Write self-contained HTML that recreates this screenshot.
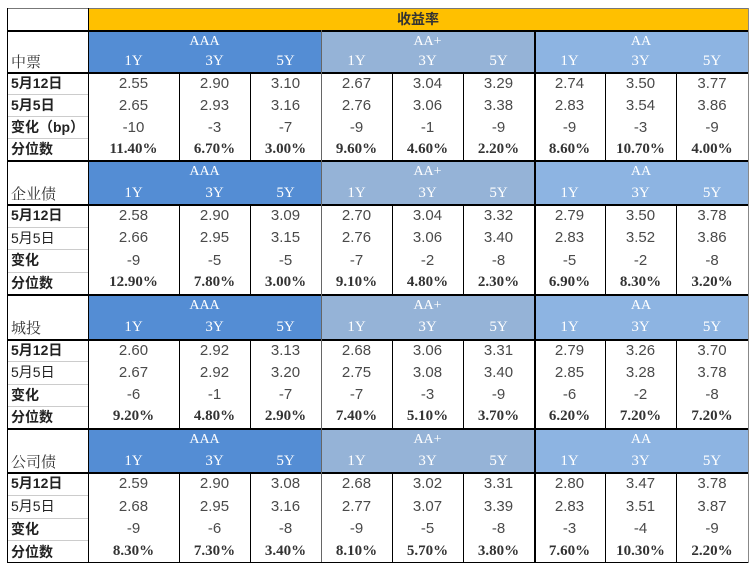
<!DOCTYPE html>
<html><head><meta charset="utf-8"><style>
body{margin:0;width:754px;height:572px;background:#fff;position:relative;overflow:hidden;font-family:"Liberation Sans","Noto Sans CJK SC",sans-serif}
.c{position:absolute;box-sizing:border-box;display:flex;align-items:center;justify-content:center;white-space:nowrap}
.n{font-size:15px;color:#4a4a4a}
.p{font-family:"Liberation Serif","Noto Serif CJK SC",serif;font-weight:bold;font-size:15px;color:#333}
.h{font-family:"Liberation Serif","Noto Serif CJK SC",serif;color:#fff;font-size:14px}
.l{justify-content:flex-start;padding-left:4px;font-size:14px;color:#222}
.line{position:absolute;background:#000}
</style></head><body>
<div id="t"></div>
<script>
const blockNames=["中票","企业债","城投","公司债"];
const ratings=["AAA","AA+","AA"];
const tenors=["1Y","3Y","5Y"];
const rowLabels=[["5月12日","5月5日","变化（bp）","分位数"],["5月12日","5月5日","变化","分位数"],["5月12日","5月5日","变化","分位数"],["5月12日","5月5日","变化","分位数"]];
const cur=[[2.55,2.90,3.10,2.67,3.04,3.29,2.74,3.50,3.77],[2.58,2.90,3.09,2.70,3.04,3.32,2.79,3.50,3.78],[2.60,2.92,3.13,2.68,3.06,3.31,2.79,3.26,3.70],[2.59,2.90,3.08,2.68,3.02,3.31,2.80,3.47,3.78]];
const prev=[[2.65,2.93,3.16,2.76,3.06,3.38,2.83,3.54,3.86],[2.66,2.95,3.15,2.76,3.06,3.40,2.83,3.52,3.86],[2.67,2.92,3.20,2.75,3.08,3.40,2.85,3.28,3.78],[2.68,2.95,3.16,2.77,3.07,3.39,2.83,3.51,3.87]];
const chg=[[-10,-3,-7,-9,-1,-9,-9,-3,-9],[-9,-5,-5,-7,-2,-8,-5,-2,-8],[-6,-1,-7,-7,-3,-9,-6,-2,-8],[-9,-6,-8,-9,-5,-8,-3,-4,-9]];
const pct=[[11.40,6.70,3.00,9.60,4.60,2.20,8.60,10.70,4.00],[12.90,7.80,3.00,9.10,4.80,2.30,6.90,8.30,3.20],[9.20,4.80,2.90,7.40,5.10,3.70,6.20,7.20,7.20],[8.30,7.30,3.40,8.10,5.70,3.80,7.60,10.30,2.20]];
const colX=[88,179,250,321,392,463,534,605,676,748];
const L=7;
const blockTop=[30,160,294,428];
const hdrH=[42,44,45,44];
const dataH=[88,90,89,91];
const ratingColor=["#548dd4","#95b3d7","#8db4e2"];
const T=document.getElementById('t');
function cell(x,y,w,h,cls,txt,bg,name){const d=document.createElement('div');d.className='c '+cls;d.style.left=x+'px';d.style.top=y+'px';d.style.width=w+'px';d.style.height=h+'px';if(bg)d.style.background=bg;d.textContent=txt;


T.appendChild(d);return d;}
function line(x,y,w,h,col){const d=document.createElement('div');d.className='line';d.style.left=x+'px';d.style.top=y+'px';d.style.width=w+'px';d.style.height=h+'px';if(col)d.style.background=col;


T.appendChild(d);}
// title row
cell(colX[0],8,colX[9]-colX[0],22,'h','收益率','#ffc000','yield-title').style.cssText+=';color:#333;font-weight:bold;font-family:"Liberation Sans","Noto Sans CJK SC",sans-serif;font-size:14px';
for(let b=0;b<4;b++){
  const y0=blockTop[b],hh=hdrH[b],dh=dataH[b],rh=dh/4;
  for(let r=0;r<3;r++){
    const x=colX[r*3],w=colX[r*3+3]-x;
    cell(x,y0,w,hh,'',' ',ratingColor[r],'rating-header-bg');
    cell(x,y0+2,w,hh/2-2,'h',ratings[r],null,'rating-label');
    for(let t=0;t<3;t++){cell(colX[r*3+t],y0+hh/2,colX[r*3+t+1]-colX[r*3+t],hh/2,'h',tenors[t],null,'tenor-label').style.fontSize='15px';}
  }
  const lb=cell(L,y0+hh/2,colX[0]-L,hh/2,'l',blockNames[b],null,'block-name');
  lb.style.fontFamily='"Liberation Serif","Noto Serif CJK SC",serif';lb.style.fontSize='15px';lb.style.color='#333';
  const rows=[cur[b].map(v=>v.toFixed(2)),prev[b].map(v=>v.toFixed(2)),chg[b].map(v=>String(v)),pct[b].map(v=>v.toFixed(2)+'%')];
  for(let r=0;r<4;r++){
    const y=y0+hh+r*rh;
    const lab=cell(L,y,colX[0]-L,rh,'l',rowLabels[b][r],null,'row-label');
    if(!(r==1&&b>0))lab.style.fontWeight='bold';
    for(let c=0;c<9;c++){cell(colX[c],y,colX[c+1]-colX[c],rh,r==3?'p':'n',rows[r][c],null,'value-cell');}
    if(r>0)line(L,y,colX[0]-L,1,'#ccc');
  }
  line(L,y0,colX[9]-L,2);
  line(L,y0+hh,colX[9]-L,2);
  for(let c=1;c<9;c++)line(colX[c],y0+hh,1,dh);
  line(colX[3],y0,1,hh+dh,'#666');line(colX[6],y0,2,hh+dh,'#000');
  line(colX[0],y0,1,hh+dh);
}
line(L,8,colX[9]-L,1,'#777');line(L,8,1,555,'#000');line(colX[9],8,1,555,'#888');line(L,562,colX[9]-L,1,'#000');line(colX[0],8,1,22,'#000');
</script>
</body></html>
